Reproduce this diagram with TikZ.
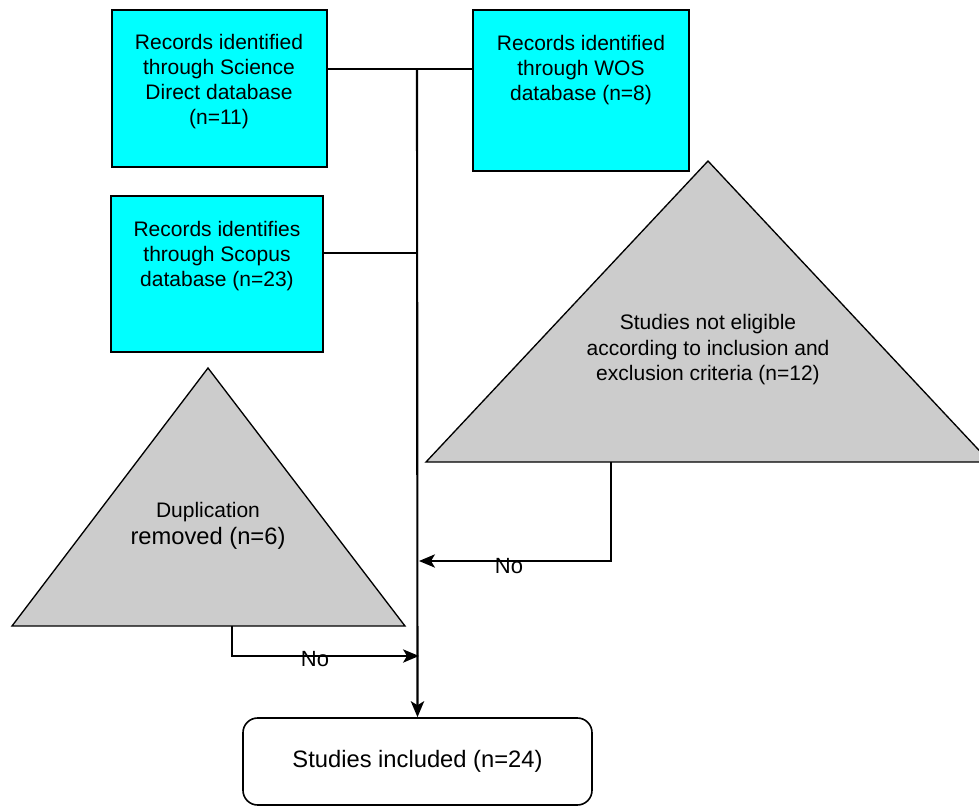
\documentclass[tikz,border=0pt]{standalone}
\usepackage{fontspec}
\setmainfont{Liberation Sans}
\usetikzlibrary{arrows.meta}
\definecolor{boxcyan}{HTML}{00FFFF}
\definecolor{trigray}{HTML}{CCCCCC}
\begin{document}
\begin{tikzpicture}[x=0.75pt,y=-0.75pt,
  srcbox/.style={draw=black,fill=boxcyan,line width=1.2pt,inner sep=0pt},
  txt/.style={align=center,inner sep=0pt,font=\fontsize{15.75}{18.75}\selectfont},
  tri/.style={draw=black,fill=trigray,line width=1pt,line join=miter},
  conn/.style={draw=black,line width=1.1pt},
  mainline/.style={draw=black,line width=1.6pt},
  arr/.style={-{Stealth[length=12pt,width=10pt,inset=3pt]}},
  nolabel/.style={inner sep=0pt,font=\fontsize{16.5}{18}\selectfont}]
\useasboundingbox (0,0) rectangle (979,807);

% source boxes
\node[srcbox,minimum width=161.25pt,minimum height=117.75pt] (sd) at (219.5,88.5) {};
\node[txt] (sdt) at (219,82) {Records identified\\through Science\\Direct database\\(n=11)};
\node[srcbox,minimum width=162pt,minimum height=120.75pt] (wos) at (581,90.5) {};
\node[txt] (wost) at (581,70) {Records identified\\through WOS\\database (n=8)};
\node[srcbox,minimum width=159pt,minimum height=117pt] (sc) at (217,274) {};
\node[txt] (sct) at (217,256) {Records identifies\\through Scopus\\database (n=23)};

% triangles
\draw[tri] (708,161) -- (990,462) -- (426,462) -- cycle;
\node[txt,font=\fontsize{15.75}{19.1}\selectfont] (excl) at (708,350) {Studies not eligible\\according to inclusion and\\exclusion criteria (n=12)};
\draw[tri] (208,368) -- (405,626) -- (12,626) -- cycle;
\node[txt,font=\fontsize{15.75}{20.25}\selectfont] (dup) at (208,526) {Duplication\\{\fontsize{17.8}{20.25}\selectfont removed (n=6)}};

% included box
\node[draw=black,line width=1.2pt,rounded corners=11pt,minimum width=261.75pt,minimum height=65.25pt,inner sep=0pt,
      font=\fontsize{17.8}{20}\selectfont] (incl) at (417.5,761.5) {Studies included (n=24)};

% junction coordinates
\coordinate (jtop) at (417,69);
\coordinate (jsc) at (417,253);
\coordinate (exout) at (611,462);
\coordinate (exin) at (419,561);
\coordinate (dupout) at (232,626);
\coordinate (dupin) at (419,656);

% connectors
\draw[conn] (sd.east |- jtop) -- (wos.west |- jtop);
\draw[mainline,arr] (jtop) -- (incl.north);
\draw[mainline] (sc.east |- jsc) -- (jsc);
\draw[conn,arr] (exout) |- (exin);
\draw[conn,arr] (dupout) |- (dupin);

\node[nolabel] (no1) at (509,566) {No};
\node[nolabel] (no2) at (315,659) {No};
\end{tikzpicture}
\end{document}
